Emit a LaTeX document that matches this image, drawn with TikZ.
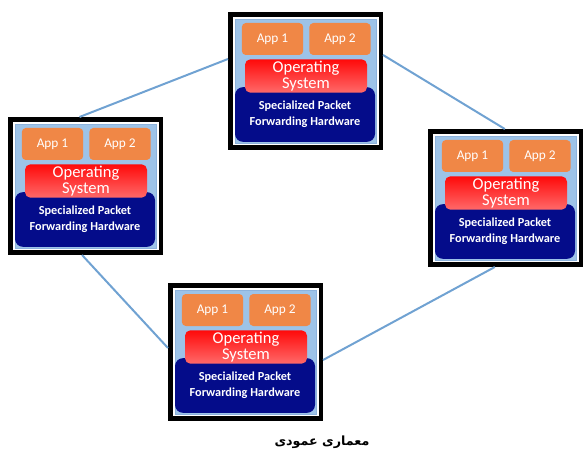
\documentclass[tikz,border=0pt]{standalone}
\usepackage{fontspec}
\setmainfont{Carlito}
\newfontfamily\arabicfont[Script=Arabic]{DejaVu Sans}
\TeXXeTstate=1
\definecolor{panelblue}{RGB}{157,195,232}
\definecolor{panelrim}{RGB}{140,178,220}
\definecolor{apporange}{RGB}{240,135,70}
\definecolor{osred}{RGB}{255,10,10}
\definecolor{ospink}{RGB}{255,105,105}
\definecolor{hwnavy}{RGB}{4,12,138}
\definecolor{linkblue}{RGB}{112,162,210}
\tikzset{
  framebox/.style={draw=black, line width=3.4pt, fill=white, inner sep=0pt,
    minimum width=112.9pt, minimum height=100.1pt},
  appbox/.style={fill=apporange, rounded corners=3pt, text=white, inner sep=0pt,
    minimum width=46pt, minimum height=24pt, font=\fontsize{10}{12}\selectfont},
  osbox/.style={top color=osred, bottom color=ospink, rounded corners=4pt,
    text=white, inner sep=0pt, align=center, minimum width=91.5pt, minimum height=25pt,
    font=\fontsize{12.4}{11.6}\selectfont},
  hwbox/.style={fill=hwnavy, rounded corners=6pt, text=white, inner sep=0pt,
    align=center, minimum width=105pt, minimum height=41pt,
    font=\bfseries\fontsize{9.2}{12}\selectfont},
  link/.style={draw=linkblue, line width=1.5pt},
  device/.pic={
    \node[framebox] (-frame) at (77.5,69) {};
    \filldraw[fill=panelblue, draw=panelrim, line width=0.5pt] (7,7) rectangle (148,131);
    \node[hwbox] (-hw) at (77,102.5) {Specialized Packet\\Forwarding Hardware};
    \node[osbox] (-os) at (78,64) {Operating\\System};
    \node[appbox] (-app1) at (44.5,27) {App 1};
    \node[appbox] (-app2) at (112,27) {App 2};
  }
}
\begin{document}
\begin{tikzpicture}[x=0.75pt,y=-0.75pt]
\useasboundingbox (0,0) rectangle (584,459);
% four devices
\pic (top) at (228,12) {device};
\pic (left) at (8,117) {device};
\pic (right) at (428,129) {device};
\pic (bottom) at (168,283) {device};
% ring of links
\draw[link] ([yshift=16.5pt]top-frame.west) -- ([xshift=-4.5pt]left-frame.north);
\draw[link] ([yshift=19.5pt]top-frame.east) -- ([xshift=-0.5pt]right-frame.north);
\draw[link] ([xshift=-2.6pt]left-frame.south) -- ([yshift=3pt]bottom-frame.west);
\draw[link] ([yshift=-6pt]bottom-frame.east) -- ([xshift=-8pt]right-frame.south);
% caption
\node (caption) at (322,442) {\arabicfont\bfseries\fontsize{9.5}{12}\selectfont\beginR معماری عمودی\endR};
\end{tikzpicture}
\end{document}
